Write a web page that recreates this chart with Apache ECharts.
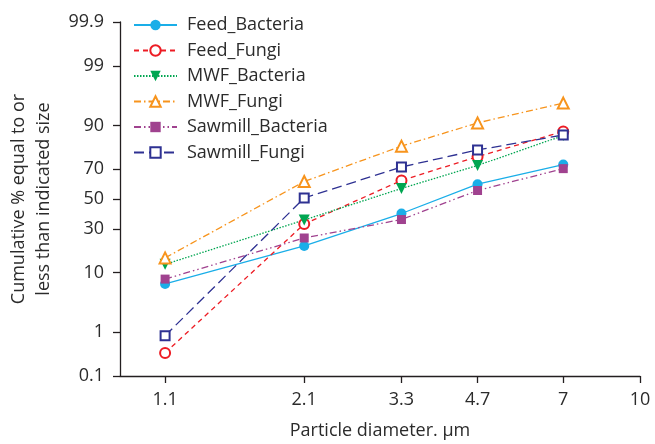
<!DOCTYPE html>
<html>
<head>
<meta charset="utf-8">
<script src="https://cdn.jsdelivr.net/npm/echarts@6/dist/echarts.min.js"></script>
<style>html,body{margin:0;padding:0;background:#fff}#c{width:655px;height:444px}</style>
</head>
<body>
<div id="c"></div>
<script>
// ---- data ----
const diameters = [1.1, 2.1, 3.3, 4.7, 7];
const xTickLabels = [1.1, 2.1, 3.3, 4.7, 7, 10];
const yTickLabels = [0.1, 1, 10, 30, 50, 70, 90, 99, 99.9];
const seriesNames = ['Feed_Bacteria', 'Feed_Fungi', 'MWF_Bacteria', 'MWF_Fungi', 'Sawmill_Bacteria', 'Sawmill_Fungi'];
const feedBacteria    = [6.9, 20.6, 40.0, 60.2, 72.6];
const feedFungi       = [0.36, 33.1, 62.7, 77.0, 88.1];
const mwfBacteria     = [12.7, 35.7, 57.3, 72.1, 86.6];
const mwfFungi        = [15.2, 62.0, 82.2, 90.8, 95.3];
const sawmillBacteria = [8.1, 24.8, 36.0, 55.9, 70.2];
const sawmillFungi    = [0.85, 50.7, 71.2, 80.4, 86.8];

// inverse normal CDF (probability scale)
function probit(p) {
  const a=[-3.969683028665376e+01,2.209460984245205e+02,-2.759285104469687e+02,1.383577518672690e+02,-3.066479806614716e+01,2.506628277459239e+00];
  const b=[-5.447609879822406e+01,1.615858368580409e+02,-1.556989798598866e+02,6.680131188771972e+01,-1.328068155288572e+01];
  const c=[-7.784894002430293e-03,-3.223964580411365e-01,-2.400758277161838e+00,-2.549671010848450e+00,4.374664141464968e+00,2.938163982698783e+00];
  const d=[7.784695709041462e-03,3.224671290700398e-01,2.445134137142996e+00,3.754408661907416e+00];
  const pl=0.02425, ph=1-pl; let q,r;
  if (p<pl){q=Math.sqrt(-2*Math.log(p));return (((((c[0]*q+c[1])*q+c[2])*q+c[3])*q+c[4])*q+c[5])/((((d[0]*q+d[1])*q+d[2])*q+d[3])*q+1);}
  if (p<=ph){q=p-0.5;r=q*q;return (((((a[0]*r+a[1])*r+a[2])*r+a[3])*r+a[4])*r+a[5])*q/(((((b[0]*r+b[1])*r+b[2])*r+b[3])*r+b[4])*r+1);}
  q=Math.sqrt(-2*Math.log(1-p));return -(((((c[0]*q+c[1])*q+c[2])*q+c[3])*q+c[4])*q+c[5])/((((d[0]*q+d[1])*q+d[2])*q+d[3])*q+1);
}
const py = v => probit(v / 100);
const lx = v => Math.log10(v);

const yTickVals = yTickLabels.map(py);
const xTickVals = xTickLabels.map(lx);

function mk(vals){ return diameters.map((d,i)=>[lx(d), py(vals[i])]); }

const FONT = '"Open Sans", sans-serif';
const TXT = '#2b2b2b';
const AX = '#231f20';

const styles = [
  {data: feedBacteria, color:'#1aaee8', dash:'solid', symbol:'circle', size:10},
  {data: feedFungi, color:'#ed1c24', dash:[5,4], symbol:'emptyCircle', size:10},
  {data: mwfBacteria, color:'#00a651', dash:[1.5,1.5], symbol:'triangle', size:11, rot:180},
  {data: mwfFungi, color:'#f7941d', dash:[7,3,1.5,3], symbol:'emptyTriangle', size:11},
  {data: sawmillBacteria, color:'#a0428f', dash:[7,3,1.5,3,1.5,3], symbol:'rect', size:9},
  {data: sawmillFungi, color:'#2e3192', dash:[10,5], symbol:'emptyRect', size:9}
];

const series = styles.map((s,i)=>{
  const empty = s.symbol.startsWith('empty');
  const it = {color: s.color};
  if (empty) it.borderWidth = 1.5;
  return {
    name: seriesNames[i], type:'line', data: mk(s.data),
    symbol: s.symbol, symbolSize: s.size, symbolRotate: s.rot || 0,
    lineStyle: {color: s.color, width: 1.3, type: s.dash},
    itemStyle: it,
    color: s.color,
    emphasis: {disabled: true},
    animation: false
  };
});

function nearLabel(arr, vals, v){
  for (let i=0;i<vals.length;i++) if (Math.abs(vals[i]-v)<1e-6) return String(arr[i]);
  return '';
}

const chart = echarts.init(document.getElementById('c'), null, {renderer:'canvas'});
chart.setOption({
  backgroundColor:'#fff',
  animation:false,
  grid:{left:120, right:15, top:22, bottom:68, containLabel:false, outerBoundsMode:'none'},
  legend:{
    orient:'vertical', left:128, top:11, itemWidth:43, itemHeight:13, itemGap:7.5,
    textStyle:{fontFamily:FONT, fontSize:18, color:TXT, padding:[0,0,0,5]},
    data: seriesNames
  },
  xAxis:{
    type:'value', min: lx(0.892), max: 1,
    name:'Particle diameter. µm', nameLocation:'middle', nameGap:46,
    nameTextStyle:{fontFamily:FONT, fontSize:18, color:TXT},
    axisLine:{onZero:false, lineStyle:{color:AX, width:1.3}},
    axisTick:{customValues: xTickVals, length:7, lineStyle:{color:AX, width:1.3}},
    axisLabel:{customValues: xTickVals, margin:15, fontFamily:FONT, fontSize:18, color:TXT,
      formatter: v => nearLabel(xTickLabels, xTickVals, v)},
    splitLine:{show:false}
  },
  yAxis:{
    type:'value', min: py(0.1), max: py(99.9),
    name:'Cumulative % equal to or\nless than indicated size', nameLocation:'middle', nameGap:64,
    nameTextStyle:{fontFamily:FONT, fontSize:18, color:TXT, lineHeight:25},
    axisLine:{show:true, onZero:false, lineStyle:{color:AX, width:1.3}},
    axisTick:{show:true, customValues: yTickVals, length:7, lineStyle:{color:AX, width:1.3}},
    axisLabel:{customValues: yTickVals, margin:16, fontFamily:FONT, fontSize:18, color:TXT,
      formatter: v => nearLabel(yTickLabels, yTickVals, v)},
    splitLine:{show:false}
  },
  series: series
});
</script>
</body>
</html>
